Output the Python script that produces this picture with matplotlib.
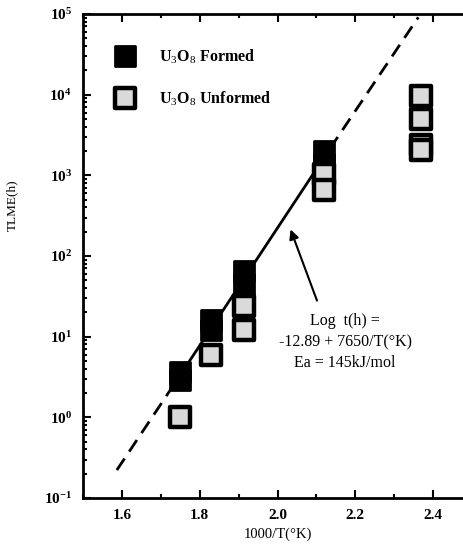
import matplotlib.pyplot as plt
import matplotlib.ticker as mticker
from matplotlib.markers import MarkerStyle
import numpy as np

plt.rcParams['font.family'] = ['Liberation Serif', 'DejaVu Serif']
plt.rcParams['mathtext.fontset'] = 'custom'
plt.rcParams['mathtext.rm'] = 'Liberation Serif'

# U3O8 formed (filled squares)
formed_x = [1.75, 1.75, 1.83, 1.83, 1.915, 1.915, 2.12, 2.12]
formed_y = [3.6, 2.9, 16, 12, 65, 45, 2000, 1400]

# U3O8 unformed (open squares)
unformed_x = [1.75, 1.83, 1.915, 1.915, 2.12, 2.12, 2.37, 2.37, 2.37, 2.37]
unformed_y = [1.0, 5.9, 24, 12, 1050, 650, 9600, 5000, 2400, 2050]

# fitted line, drawn dashed - solid - dashed
dash_lo_x = [1.587, 1.735]
dash_lo_y = [0.222, 2.6]
solid_x = [1.735, 2.135]
solid_y = [2.6, 2150]
dash_hi_x = [2.135, 2.362]
dash_hi_y = [2150, 91000]

y_ticks = [1e-1, 1e0, 1e1, 1e2, 1e3, 1e4, 1e5]

sq = MarkerStyle('s', joinstyle='round')

fig = plt.figure(figsize=(4.64, 5.46), dpi=100)
ax = fig.add_axes([83/464, 48/546, 389/464, 484/546])

ax.plot(dash_lo_x, dash_lo_y, color='black', lw=2, ls=(0, (5, 3)))
ax.plot(solid_x, solid_y, color='black', lw=2)
ax.plot(dash_hi_x, dash_hi_y, color='black', lw=2, ls=(0, (5, 3)))

ax.plot(formed_x, formed_y, ls='none', marker=sq, ms=15, mfc='black', mec='black', mew=2)
ax.plot(unformed_x, unformed_y, ls='none', marker=sq, ms=14, mfc='#dadada', mec='black', mew=3.2)

ax.set_yscale('log')
ax.set_xlim(1.5, 2.5)
ax.set_ylim(0.1, 1e5)
ax.xaxis.set_major_locator(mticker.MultipleLocator(0.2))
ax.xaxis.set_minor_locator(mticker.MultipleLocator(0.1))
ax.xaxis.set_major_formatter(mticker.FormatStrFormatter('%.1f'))
ax.yaxis.set_major_locator(mticker.FixedLocator(y_ticks))
ax.yaxis.set_minor_locator(mticker.LogLocator(base=10, subs=np.arange(2, 10), numticks=10))
ax.yaxis.set_minor_formatter(mticker.NullFormatter())

ax.tick_params(axis='both', which='both', direction='in', top=True, right=True, width=1.5)
ax.tick_params(axis='both', which='major', length=6, labelsize=11, pad=8)
ax.tick_params(axis='both', which='minor', length=3)
for lab in ax.get_xticklabels() + ax.get_yticklabels():
    lab.set_fontweight('bold')
for s in ax.spines.values():
    s.set_linewidth(2)

ax.set_xlabel('1000/T(°K)', fontsize=10.5, labelpad=4)
ax.set_ylabel('TLME(h)', fontsize=9.5)
ax.yaxis.set_label_coords(-0.167, 0.605)

# legend drawn by hand
ax.plot([1.607], [3e4], ls='none', marker=sq, ms=15, mfc='black', mec='black', mew=2)
ax.plot([1.607], [9e3], ls='none', marker=sq, ms=14, mfc='#dadada', mec='black', mew=3.2)
ax.text(1.695, 3e4, r'U$_3$O$_8$ Formed', fontsize=11.5, fontweight='bold', va='center')
ax.text(1.695, 9e3, r'U$_3$O$_8$ Unformed', fontsize=11.5, fontweight='bold', va='center')

ax.annotate('', xy=(2.031, 230), xytext=(2.104, 26),
            arrowprops=dict(arrowstyle='-|>', color='black', lw=1.5, mutation_scale=14))
ax.text(2.174, 8.6, 'Log  t(h) =\n-12.89 + 7650/T(°K)\nEa = 145kJ/mol',
        fontsize=11.5, ha='center', va='center', linespacing=1.45)

fig.savefig('out.png', dpi=100)
